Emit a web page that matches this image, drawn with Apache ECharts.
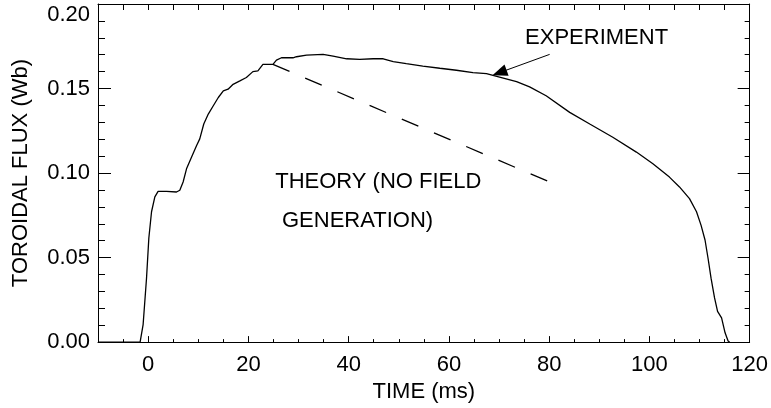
<!DOCTYPE html>
<html><head><meta charset="utf-8">
<script src="https://cdn.jsdelivr.net/npm/echarts@6/dist/echarts.min.js"></script>
<style>html,body{margin:0;padding:0;background:#fff}#c{width:771px;height:408px}</style>
</head><body><div id="c"></div>
<script>
// Experiment: time (ms) and toroidal flux (Wb)
const expTime = [-10, -1.6, -1.0, -0.32, 0.14, 0.68, 1.34, 1.99, 3.67, 5.66, 6.32, 6.98, 7.66, 8.65, 9.65, 10.3,
  11.1, 12.0, 13.0, 14.0, 15.0, 15.95, 16.95, 18.3, 19.6, 20.9, 21.9, 22.9, 23.9, 24.9, 25.6, 26.6, 28.9, 29.6,
  31.6, 34.9, 36.9, 39.6, 42.2, 44.9, 46.9, 48.9, 51.5, 54.8, 58.2, 61.5, 64.8, 67.5, 70.1, 73.5, 76.1, 79.4,
  84.1, 88.1, 92.7, 97.4, 100.7, 104.0, 106.0, 108.0, 109.4, 110.3, 111.1, 111.7, 112.3, 113.0, 113.6, 114.4,
  115.1, 115.7, 116.0];
const expFlux = [0, 0, 0.0104, 0.0378, 0.0614, 0.0771, 0.0859, 0.0892, 0.0892, 0.0888, 0.0898, 0.0947, 0.1025,
  0.1094, 0.1162, 0.1202, 0.129, 0.1349, 0.1398, 0.1447, 0.1486, 0.1496, 0.1525, 0.1545, 0.1565, 0.160, 0.1604,
  0.1643, 0.1643, 0.1643, 0.1668, 0.1682, 0.1682, 0.1688, 0.1698, 0.1702, 0.1692, 0.1676, 0.1672, 0.1676, 0.1676,
  0.1659, 0.1647, 0.1633, 0.162, 0.1608, 0.1594, 0.1588, 0.1568, 0.1541, 0.151, 0.1457, 0.1359, 0.129, 0.1212,
  0.1124, 0.1055, 0.0976, 0.0918, 0.0849, 0.0771, 0.0692, 0.0604, 0.0496, 0.0378, 0.0261, 0.0182, 0.0143,
  0.0055, 0.0006, 0];
// Theory (no field generation)
const theoryTime = [24.9, 80.1];
const theoryFlux = [0.1643, 0.0947];
// Tick labels
const xTickLabels = [0, 20, 40, 60, 80, 100, 120];
const yTickLabels = [0, 0.05, 0.10, 0.15, 0.20];
// Annotations
const annoText = ['EXPERIMENT', 'THEORY (NO FIELD', 'GENERATION)'];
const annoTime = [75.1, 25.25, 26.6];
const annoFlux = [0.1799, 0.0947, 0.0714];
const arrowStart = [80.1, 0.1702];
const arrowEnd = [70.1, 0.1594];

const FONT = 'Liberation Sans, Arial, Helvetica, sans-serif';
const chart = echarts.init(document.getElementById('c'), null, {renderer: 'canvas'});
const blackLine = {show: true, onZero: false, lineStyle: {color: '#000', width: 1}};
chart.setOption({
  animation: false,
  backgroundColor: '#fff',
  textStyle: {fontFamily: FONT, color: '#000'},
  grid: {left: 98, right: 20, top: 4, bottom: 64, containLabel: false},
  xAxis: [
    { // bottom major
      type: 'value', position: 'bottom', min: -10, max: 120, interval: 5,
      axisLine: blackLine,
      axisTick: {show: true, inside: true, length: 6, customValues: xTickLabels, lineStyle: {color: '#000'}},
      axisLabel: {show: true, customValues: xTickLabels, margin: 12, fontSize: 22, color: '#000', fontFamily: FONT},
      splitLine: {show: false},
      name: 'TIME (ms)', nameLocation: 'middle', nameGap: 35,
      nameTextStyle: {fontSize: 22, color: '#000', fontFamily: FONT}
    },
    { // bottom minor
      type: 'value', position: 'bottom', min: -10, max: 120, interval: 5,
      axisLine: {show: false, onZero: false},
      axisTick: {show: true, inside: true, length: 3, lineStyle: {color: '#000'}},
      axisLabel: {show: false}, splitLine: {show: false}
    },
    { // top
      type: 'value', position: 'top', min: -10, max: 120, interval: 5,
      axisLine: blackLine,
      axisTick: {show: true, inside: true, length: 6, lineStyle: {color: '#000'}},
      axisLabel: {show: false}, splitLine: {show: false}
    }
  ],
  yAxis: [
    {
      type: 'value', position: 'left', min: 0, max: 0.2, interval: 0.05,
      axisLine: blackLine,
      axisTick: {show: true, inside: true, length: 13, lineStyle: {color: '#000'}},
      minorTick: {show: true, splitNumber: 5, length: 7, lineStyle: {color: '#000'}},
      axisLabel: {show: true, margin: 8, fontSize: 22, color: '#000', fontFamily: FONT,
        verticalAlignMaxLabel: 'top',
        formatter: v => v.toFixed(2)},
      splitLine: {show: false},
      name: 'TOROIDAL FLUX (Wb)', nameLocation: 'middle', nameGap: 66,
      nameTextStyle: {fontSize: 22, color: '#000', fontFamily: FONT}
    },
    {
      type: 'value', position: 'right', min: 0, max: 0.2, interval: 0.05,
      axisLine: blackLine,
      axisTick: {show: true, inside: true, length: 12, lineStyle: {color: '#000'}},
      minorTick: {show: true, splitNumber: 5, length: 5, lineStyle: {color: '#000'}},
      axisLabel: {show: false}, splitLine: {show: false}
    }
  ],
  series: [
    {
      type: 'line', name: 'Experiment', xAxisIndex: 0, yAxisIndex: 0,
      data: expTime.map((t, i) => [t, expFlux[i]]),
      showSymbol: false, symbol: 'none', smooth: false,
      lineStyle: {color: '#000', width: 1.3},
      markLine: {
        silent: true, animation: false,
        symbol: ['none', 'triangle'], symbolSize: [12, 15],
        label: {show: false},
        lineStyle: {color: '#000', width: 1, type: 'solid'},
        data: [[{coord: arrowStart}, {coord: arrowEnd}]]
      }
    },
    {
      type: 'line', name: 'Theory', xAxisIndex: 0, yAxisIndex: 0,
      data: theoryTime.map((t, i) => [t, theoryFlux[i]]),
      showSymbol: false, symbol: 'none',
      lineStyle: {color: '#000', width: 1.3, type: [18, 17]},
      markPoint: {
        silent: true, animation: false,
        symbol: 'circle', symbolSize: 1,
        itemStyle: {color: 'rgba(0,0,0,0)'},
        label: {show: true, position: 'right', distance: 0, fontSize: 22, color: '#000', fontFamily: FONT,
          formatter: p => p.name},
        data: annoText.map((s, i) => ({name: s, coord: [annoTime[i], annoFlux[i]]}))
      }
    }
  ]
});
</script></body></html>
